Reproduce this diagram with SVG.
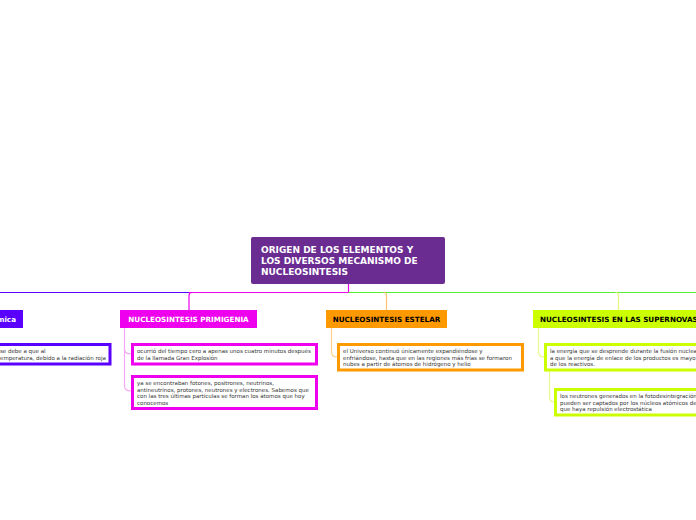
<svg xmlns="http://www.w3.org/2000/svg" width="696" height="520" viewBox="0 0 696 520">
<style>
.h{font-family:"DejaVu Sans","Verdana",sans-serif;font-weight:bold;font-size:7.2px}
.t{font-family:"DejaVu Sans","Verdana",sans-serif;font-size:5.5px;fill:#333}
.c{fill:none;stroke-width:1.2}
.box{fill:#fff;stroke-width:3}
</style>
<rect width="696" height="520" fill="#fff"/>
<g id="connectors">
<path class="c" d="M0 292.5H189" stroke="#5a00ff"/>
<path class="c" d="M189 292.5H348.5V284" stroke="#ee00ee"/>
<path class="c" d="M348.5 292.5H696" stroke="#55ee33"/>
<path class="c" d="M189 310V295.5Q189 292.5 192 292.5" stroke="#ee00ee"/>
<path class="c" d="M386.5 310V295.5Q386.5 292.5 383.5 292.5" stroke="#ffc070"/>
<path class="c" d="M618.5 310V295.5Q618.5 292.5 615.5 292.5" stroke="#e5f77a"/>
<path class="c" d="M124.5 328V349Q124.5 354 131 354M124.5 349V386Q124.5 391 131 391" stroke="#f5a8f5"/>
<path class="c" d="M331.5 328V352Q331.5 357 337 357" stroke="#ffd08a"/>
<path class="c" d="M538.5 328V352Q538.5 357 544 357" stroke="#eaf98a"/>
<path class="c" d="M549.5 371V397Q549.5 402 554 402" stroke="#eaf98a"/>
</g>
<g id="root">
<rect x="251" y="237" width="194" height="47" rx="2" fill="#6a2c91"/>
<text class="h" fill="#fff" style="font-size:9px"><tspan x="261" y="253">ORIGEN DE LOS ELEMENTOS Y</tspan><tspan x="261" y="264">LOS DIVERSOS MECANISMO DE</tspan><tspan x="261" y="275">NUCLEOSINTESIS</tspan></text>
</g>
<g id="n-quimica">
<rect x="-60" y="310" width="83" height="18" fill="#5a00ff"/>
<text class="h" fill="#fff" x="16" y="321.5" text-anchor="end">mica</text>
</g>
<g id="n-quimica-1">
<rect class="box" x="-40" y="344.5" width="150" height="19.5" stroke="#5a00ff"/>
<text class="t"><tspan x="0" y="353">se debe a que al</tspan><tspan x="0" y="360">emperatura, debido a la radiación roja</tspan></text>
</g>
<g id="n-primigenia">
<rect x="120" y="310" width="137" height="18" fill="#ee00ee"/>
<text class="h" fill="#fff" x="188.5" y="321.5" text-anchor="middle">NUCLEOSINTESIS PRIMIGENIA</text>
</g>
<g id="n-primigenia-1">
<rect class="box" x="132.5" y="344.5" width="184" height="19.5" stroke="#ee00ee"/>
<text class="t"><tspan x="137" y="353">ocurrió del tiempo cero a apenas unos cuatro minutos después</tspan><tspan x="137" y="360">de la llamada Gran Explosión</tspan></text>
</g>
<g id="n-primigenia-2">
<rect class="box" x="132.5" y="376.5" width="184" height="32" stroke="#ee00ee"/>
<text class="t"><tspan x="137" y="385">ya se encontraban fotones, positrones, neutrinos,</tspan><tspan x="137" y="391.5">antineutrinos, protones, neutrones y electrones. Sabemos que</tspan><tspan x="137" y="398">con las tres últimas partículas se forman los átomos que hoy</tspan><tspan x="137" y="404.5">conocemos</tspan></text>
</g>
<g id="n-estelar">
<rect x="326" y="310" width="121" height="18" fill="#ff9900"/>
<text class="h" fill="#000" x="386.5" y="321.5" text-anchor="middle">NUCLEOSINTESIS ESTELAR</text>
</g>
<g id="n-estelar-1">
<rect class="box" x="338.5" y="344.5" width="184" height="25.5" stroke="#ff9900"/>
<text class="t"><tspan x="343" y="353">el Universo continuó únicamente expandiéndose y</tspan><tspan x="343" y="359.5">enfriándose, hasta que en las regiones más frías se formaron</tspan><tspan x="343" y="366">nubes a partir de átomos de hidrógeno y helio</tspan></text>
</g>
<g id="n-supernovas">
<rect x="533" y="310" width="180" height="18" fill="#ccff00"/>
<text class="h" fill="#000" x="540" y="321.5">NUCLEOSINTESIS EN LAS SUPERNOVAS</text>
</g>
<g id="n-supernovas-1">
<rect class="box" x="545.5" y="344.5" width="170" height="25.5" stroke="#ccff00"/>
<text class="t"><tspan x="550" y="353">la energía que se desprende durante la fusión nuclea</tspan><tspan x="550" y="359.5">a que la energía de enlace de los productos es mayo</tspan><tspan x="550" y="366">de los reactivos.</tspan></text>
</g>
<g id="n-supernovas-2">
<rect class="box" x="555.5" y="389.5" width="170" height="25.5" stroke="#ccff00"/>
<text class="t"><tspan x="560" y="398">los neutrones generados en la fotodesintegración</tspan><tspan x="560" y="404.5">pueden ser captados por los núcleos atómicos de</tspan><tspan x="560" y="411">que haya repulsión electrostática</tspan></text>
</g>
</svg>
